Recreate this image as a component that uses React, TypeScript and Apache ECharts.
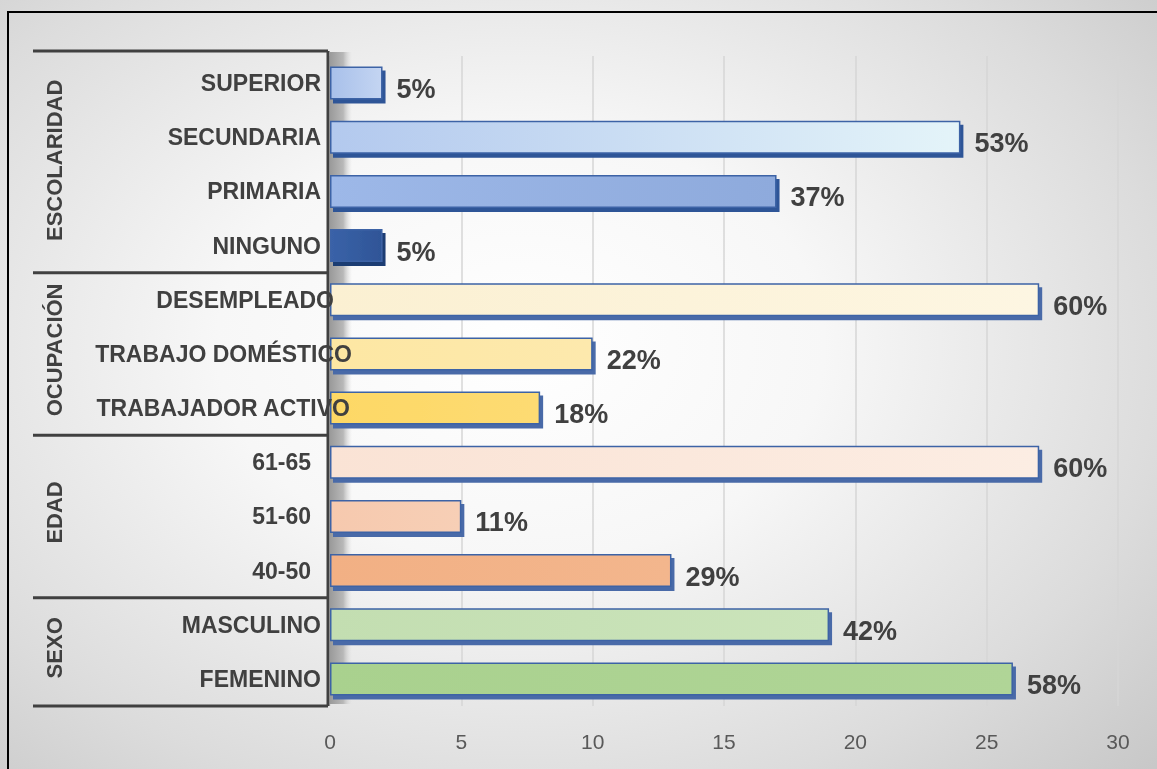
import React, { useEffect, useRef } from "react";
import * as echarts from "echarts";

const categories = [
  "SUPERIOR",
  "SECUNDARIA",
  "PRIMARIA",
  "NINGUNO",
  "DESEMPLEADO",
  "TRABAJO DOMÉSTICO",
  "TRABAJADOR ACTIVO",
  "61-65",
  "51-60",
  "40-50",
  "MASCULINO",
  "FEMENINO",
];
const values = [2, 24, 17, 2, 27, 10, 8, 27, 5, 13, 19, 26];
const pctLabels = ["5%", "53%", "37%", "5%", "60%", "22%", "18%", "60%", "11%", "29%", "42%", "58%"];
const groups = ["ESCOLARIDAD", "OCUPACIÓN", "EDAD", "SEXO"];
const groupSizes = [4, 3, 3, 2];
const xMin = 0;
const xMax = 30;
const xStep = 5;

// horizontal nudge of each category label (positive = to the right)
const labelShift = [0, 0, 0, 0, 13, 31, 29, -10, -10, -10, 0, 0];

const barFills: [string, string][] = [
  ["#a8c0ea", "#c4d5f2"],
  ["#b3c9ee", "#e4f4f9"],
  ["#9db8e8", "#8eaadc"],
  ["#3a62a8", "#2f5597"],
  ["#fbf0d2", "#fdf6e2"],
  ["#fde7a3", "#fde9ad"],
  ["#fdd865", "#fddb73"],
  ["#fae3d5", "#fcede3"],
  ["#f6c9ae", "#f7cfb6"],
  ["#f2b084", "#f3b68d"],
  ["#c3deb1", "#cbe4bb"],
  ["#a9d18e", "#b0d597"],
];
const shadeColors = [
  "#2f5597", "#2f5597", "#2f5597", "#1f3d73",
  "#4a6aa8", "#4a6aa8", "#4a6aa8",
  "#4a6aa8", "#4a6aa8", "#4a6aa8",
  "#4a6aa8", "#4a6aa8",
];

const FONT = "'Liberation Sans', Arial, sans-serif";

export default function App() {
  const ref = useRef<HTMLDivElement>(null);

  useEffect(() => {
    if (!ref.current) return;
    const chart = echarts.init(ref.current, undefined, { renderer: "svg" });

    const data = values.map((v, i) => ({
      value: v,
      itemStyle: {
        color: new echarts.graphic.LinearGradient(0, 0, 1, 0, [
          { offset: 0, color: barFills[i][0] },
          { offset: 1, color: barFills[i][1] },
        ]),
        borderColor: "#3d63a6",
        borderWidth: 1.5,
        shadowColor: shadeColors[i],
        shadowOffsetX: 3,
        shadowOffsetY: 4,
        shadowBlur: 0,
      },
    }));

    const catData = categories.map((c, i) => ({
      value: c,
      textStyle: { padding: [0, -labelShift[i], 0, 0] },
    }));

    chart.setOption({
      animation: false,
      backgroundColor: "transparent",
      grid: { left: 330, right: 39, top: 56, bottom: 63, containLabel: false },
      xAxis: {
        type: "value",
        min: xMin,
        max: xMax,
        interval: xStep,
        axisLine: { show: false },
        axisTick: { show: false },
        axisLabel: { color: "#595959", fontSize: 21, fontFamily: FONT, margin: 25 },
        splitLine: { show: true, lineStyle: { color: "#d6d6d6", width: 1.5 } },
      },
      yAxis: {
        type: "category",
        data: catData,
        inverse: true,
        z: 5,
        axisLine: { show: false },
        axisTick: { show: false },
        axisLabel: {
          color: "#404040",
          fontSize: 23,
          fontWeight: "bold",
          fontFamily: FONT,
          margin: 9,
        },
      },
      series: [
        {
          type: "bar",
          data,
          barWidth: 33,
          z: 3,
          label: {
            show: true,
            position: "right",
            distance: 14,
            offset: [0, 6],
            color: "#404040",
            fontSize: 27,
            fontWeight: "bold",
            fontFamily: FONT,
            formatter: (p: any) => pctLabels[p.dataIndex],
          },
        },
      ],
    });

    const centers = categories.map((c) => chart.convertToPixel({ yAxisIndex: 0 }, c) as number);
    const band = centers[1] - centers[0];
    const top = centers[0] - band / 2;
    const bottom = centers[centers.length - 1] + band / 2;
    const axisX = chart.convertToPixel({ xAxisIndex: 0 }, 0) as number;

    const bounds: number[] = [top];
    let idx = 0;
    groupSizes.forEach((n) => {
      idx += n;
      bounds.push(centers[idx - 1] + band / 2);
    });

    const graphics: any[] = [];
    graphics.push({
      type: "rect",
      z: 1,
      shape: { x: axisX, y: top - 4, width: 22, height: bottom - top + 2 },
      style: {
        fill: new echarts.graphic.LinearGradient(0, 0, 1, 0, [
          { offset: 0, color: "#9a9a9a" },
          { offset: 0.6, color: "#b8b8b8" },
          { offset: 1, color: "rgba(220,220,220,0)" },
        ]),
      },
    });
    graphics.push({
      type: "line",
      z: 10,
      shape: { x1: axisX - 2, y1: top - 5, x2: axisX - 2, y2: bottom },
      style: { stroke: "#404040", lineWidth: 3 },
    });
    bounds.forEach((b, i) => {
      const y = i === 0 ? b - 5 : b;
      graphics.push({
        type: "line",
        z: 10,
        shape: { x1: 33, y1: y, x2: axisX - 2, y2: y },
        style: { stroke: "#404040", lineWidth: 3 },
      });
    });
    groups.forEach((g, i) => {
      const cy = (bounds[i] + bounds[i + 1]) / 2 - 4;
      graphics.push({
        type: "text",
        z: 10,
        x: 54,
        y: cy,
        rotation: Math.PI / 2,
        style: {
          text: g,
          fill: "#404040",
          fontSize: 22,
          fontWeight: "bold",
          fontFamily: FONT,
          align: "center",
          verticalAlign: "middle",
        },
      });
    });
    graphics.push({
      type: "rect",
      z: 20,
      shape: { x: 8, y: 12, width: 1170, height: 790 },
      style: { fill: "none", stroke: "#000000", lineWidth: 2 },
    });

    chart.setOption({ graphic: graphics });

    return () => chart.dispose();
  }, []);

  return (
    <div
      ref={ref}
      style={{
        position: "fixed",
        left: 0,
        top: 0,
        width: 1157,
        height: 769,
        background:
          "radial-gradient(ellipse 75% 80% at 45% 45%, #ffffff 0%, #f7f7f7 35%, #dcdcdc 75%, #c8c8c8 100%)",
      }}
    />
  );
}
